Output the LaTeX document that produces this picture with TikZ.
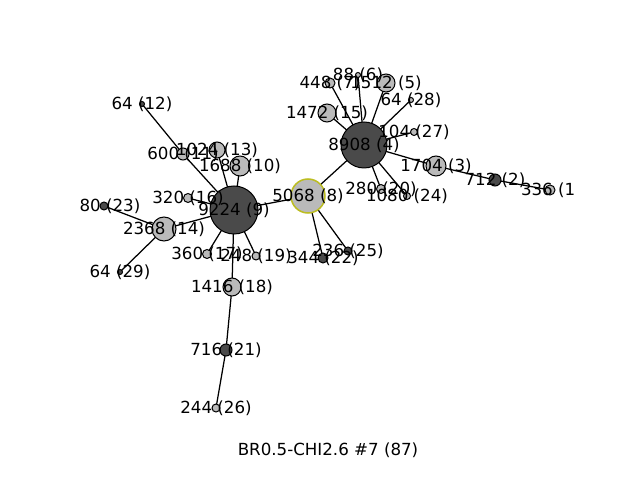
\documentclass[tikz,border=0pt]{standalone}
\usepackage{fontspec}
\setmainfont{DejaVu Sans}
\usetikzlibrary{backgrounds}
\definecolor{dkgray}{RGB}{74,74,74}
\definecolor{ltgray}{RGB}{186,186,186}
\definecolor{olivey}{RGB}{188,189,34}
\tikzset{
  nd/.style={circle, draw=black, line width=0.72bp, inner sep=0pt},
  dk/.style={nd, fill=dkgray},
  lt/.style={nd, fill=ltgray},
  rad/.style={minimum size=#1*1.44bp},
  lb/.style={font=\fontsize{12bp}{14bp}\selectfont, inner sep=0pt},
  ed/.style={line width=0.9bp, black}
}
\newcommand\lbl[3][]{\node[lb,#1] (l#2) at (#2.center) {#3};}
\begin{document}
\begin{tikzpicture}[x=0.72bp,y=-0.72bp]
\useasboundingbox (0,0) rectangle (640,480);
\begin{scope}
\clip (79,57.6) rectangle (575,427.2);
% nodes
\node[dk, rad=24] (n9) at (234,210) {};
\node[dk, rad=23] (n4) at (364,145) {};
\node[lt, rad=17, draw=olivey, line width=1.1bp] (n8) at (308,196) {};
\node[lt, rad=10] (n3) at (436,166) {};
\node[dk, rad=6] (n2) at (495,180) {};
\node[lt, rad=5] (n1) at (550,190) {};
\node[lt, rad=9] (n15) at (327,113) {};
\node[lt, rad=5] (n7) at (330,83) {};
\node[lt, rad=2.5] (n6) at (358,75) {};
\node[lt, rad=9] (n5) at (386,83) {};
\node[lt, rad=2.5] (n28) at (411,100) {};
\node[lt, rad=3.5] (n27) at (414,132) {};
\node[lt, rad=4.5] (n20) at (381,189) {};
\node[lt, rad=3.5] (n24) at (407,196) {};
\node[dk, rad=4] (n25) at (348,251) {};
\node[dk, rad=5] (n22) at (323,258) {};
\node[lt, rad=4] (n19) at (256,256) {};
\node[lt, rad=4.5] (n17) at (207,254) {};
\node[lt, rad=9] (n18) at (232,287) {};
\node[dk, rad=6] (n21) at (226,350) {};
\node[lt, rad=4] (n26) at (216,408) {};
\node[lt, rad=12] (n14) at (164,229) {};
\node[dk, rad=4] (n23) at (104,206) {};
\node[dk, rad=2.5] (n29) at (120,272) {};
\node[dk, rad=2.5] (n12) at (142,104) {};
\node[lt, rad=6] (n11) at (183,154) {};
\node[lt, rad=8] (n13) at (217,150) {};
\node[lt, rad=10] (n10) at (240,166) {};
\node[lt, rad=4.5] (n16) at (188,198) {};
% edges (behind nodes)
\begin{scope}[on background layer]
\draw[ed] (n9.center) -- (n8.center);
\draw[ed] (n8.center) -- (n4.center);
\draw[ed] (n8.center) -- (n22.center);
\draw[ed] (n8.center) -- (n25.center);
\foreach \t in {n15,n7,n6,n5,n28,n27,n3,n20,n24}
  \draw[ed] (n4.center) -- (\t.center);
\draw[ed] (n3.center) -- (n2.center);
\draw[ed] (n2.center) -- (n1.center);
\foreach \t in {n11,n13,n10,n16,n14,n17,n19,n18}
  \draw[ed] (n9.center) -- (\t.center);
\draw[ed] (n11.center) -- (n12.center);
\draw[ed] (n14.center) -- (n23.center);
\draw[ed] (n14.center) -- (n29.center);
\draw[ed] (n18.center) -- (n21.center);
\draw[ed] (n21.center) -- (n26.center);
\end{scope}
% labels
\lbl{n9}{9224 (9)}
\lbl{n4}{8908 (4)}
\lbl{n8}{5068 (8)}
\lbl{n3}{1704 (3)}
\lbl{n2}{712 (2)}
\lbl[xshift=1bp]{n1}{336 (1)}
\lbl{n15}{1472 (15)}
\lbl{n7}{448 (7)}
\lbl{n6}{88 (6)}
\lbl{n5}{1512 (5)}
\lbl{n28}{64 (28)}
\lbl{n27}{104 (27)}
\lbl{n20}{280 (20)}
\lbl{n24}{1080 (24)}
\lbl{n25}{236 (25)}
\lbl{n22}{344 (22)}
\lbl{n19}{248 (19)}
\lbl{n17}{360 (17)}
\lbl{n18}{1416 (18)}
\lbl{n21}{716 (21)}
\lbl{n26}{244 (26)}
\lbl{n14}{2368 (14)}
\lbl[xshift=4.3bp]{n23}{80 (23)}
\lbl{n29}{64 (29)}
\lbl{n12}{64 (12)}
\lbl{n11}{600 (11)}
\lbl{n13}{1024 (13)}
\lbl{n10}{1688 (10)}
\lbl{n16}{320 (16)}
\end{scope}
\node[lb] (title) at (328,450) {BR0.5-CHI2.6 \#7 (87)};
\end{tikzpicture}
\end{document}
